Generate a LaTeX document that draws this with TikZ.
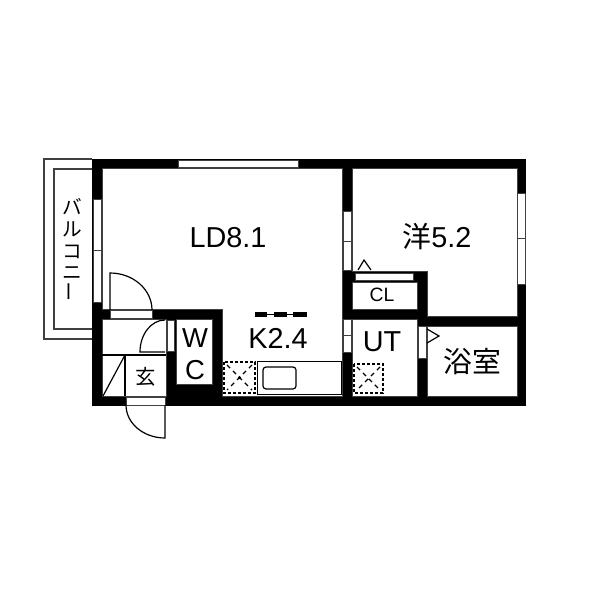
\documentclass[tikz,border=0pt]{standalone}
\usepackage{fontspec}
\setmainfont{Liberation Sans}
\newfontfamily\jpfont{Noto Sans CJK JP}
\usepackage{tikz}
\usetikzlibrary{positioning}
\definecolor{linegray}{gray}{0.25}
\tikzset{wall/.style={fill=black,draw=none},
         room/.style={fill=white,draw=linegray,line width=.5mm},
         balcony line/.style={draw=linegray,line width=.7mm},
         opening/.style={fill=white,draw=linegray,line width=.45mm},
         thin line/.style={draw=black,line width=.6mm},
         pipe box/.style={draw=black,line width=.55mm,dash pattern=on 1.5mm off 1mm},
         pipe cross/.style={draw=black,line width=.55mm,dash pattern=on 2.2mm off 2mm},
         room label/.style={inner sep=0pt,font=\fontsize{41}{41}\selectfont},
            }

\begin{document}
\begin{tikzpicture}[x=.5mm,y=-.5mm]

    \useasboundingbox[fill=white] (0,0) rectangle (600,600);

    % balcony
    \draw[balcony line] (92,159) -- (44,159) -- (44,339) -- (92,339);
    \draw[balcony line] (92,169) -- (54,169) -- (54,329) -- (92,329);

    % walls
    \path[wall] (92,159) rectangle (526,406);

    % rooms
    \path[room] (102,169) -- (342,169) -- (342,396) -- (222,396) -- (222,309)
                -- (102,309) -- cycle;
    \path[room] (352,169) -- (517,169) -- (517,316) -- (427,316) -- (427,271)
                -- (352,271) -- cycle;
    \path[room] (352,282) rectangle (417,309);
    \path[room] (352,319) rectangle (417,396);
    \path[room] (427,326) rectangle (517,396);
    \path[room] (176,319) rectangle (212,384);
    \path[room] (102,319) rectangle (166,396);

    % windows and doors
    \path[opening] (178,160) rectangle (298,167);
    \path[opening] (93,199) rectangle (101,302);
    \draw[opening] (93,250) -- (101,250);
    \path[opening] (343,211) rectangle (351,270);
    \draw[opening] (343,241) -- (351,241);
    \path[opening] (343,319) rectangle (351,352);
    \draw[opening] (343,335) -- (351,335);
    \path[opening] (517,193) rectangle (525,284);
    \draw[opening] (517,238) -- (525,238);
    \path[opening] (355,273) rectangle (413,280);
    \path[opening] (418,326) rectangle (426,358);
    \path[opening] (110,310) rectangle (152,318);
    \path[opening] (167,320) rectangle (174,351);
    \path[opening] (126,397) rectangle (165,405);

    \draw[thin line] (110,310) -- (110,273) arc[start angle=-90,end angle=0,x radius=42,y radius=37];
    \draw[thin line] (165,320) arc[start angle=-90,end angle=-180,x radius=25,y radius=32] -- (165,352);
    \draw[thin line] (165,405) -- (165,438) arc[start angle=90,end angle=180,x radius=39,y radius=33];
    \draw[thin line] (358,270) -- (364,260) -- (371,270);
    \draw[thin line] (427,329) -- (439,336) -- (427,343);

    % genkan
    \draw[thin line] (102,355) -- (166,355);
    \draw[thin line] (125,355) -- (125,396);
    \draw[thin line] (125,355) -- (103,396);

    % kitchen
    \path[opening,draw=black] (257,361) rectangle (341,394);
    \draw[thin line,rounded corners=1.5mm] (263,367) rectangle (296,389);
    \draw[pipe box] (224,362) rectangle (255,393);
    \draw[pipe cross] (227,365) -- (252,390) (252,365) -- (227,390);
    \fill (239.5,377.5) circle (.8mm);
    \draw[pipe box] (354,364) rectangle (383,393);
    \draw[pipe cross] (357,367) -- (380,390) (380,367) -- (357,390);

    % beam
    \draw[black,line width=.4mm] (255,314) -- (307,314);
    \path[wall] (255,311.5) rectangle (267,316.5);
    \path[wall] (274,311.5) rectangle (287,316.5);
    \path[wall] (293,311.5) rectangle (307,316.5);

    % labels
    \node[room label] (ld) at (228,238) {LD8.1};
    \node[room label] (yo) at (437,237) {{\jpfont 洋}5.2};
    \node[room label] (k) at (278,338) {K2.4};
    \node[room label] (ut) at (382,342) {UT};
    \node[room label,font=\fontsize{27.5}{27.5}\selectfont] (cl) at (382,295) {CL};
    \node[room label] (bath) at (472,362) {\jpfont 浴室};
    \node[room label,align=center,font=\fontsize{39}{45}\selectfont] (wc) at (195,354) {W\\C};
    \node[room label,font=\fontsize{29}{29}\selectfont] (gen) at (146,377) {\jpfont 玄};
    \node[room label,align=center,font=\jpfont\fontsize{28}{31}\selectfont] (balc) at (72,250)
        {バ\\ル\\コ\\ニ\\\rotatebox{90}{ー}};

\end{tikzpicture}
\end{document}
